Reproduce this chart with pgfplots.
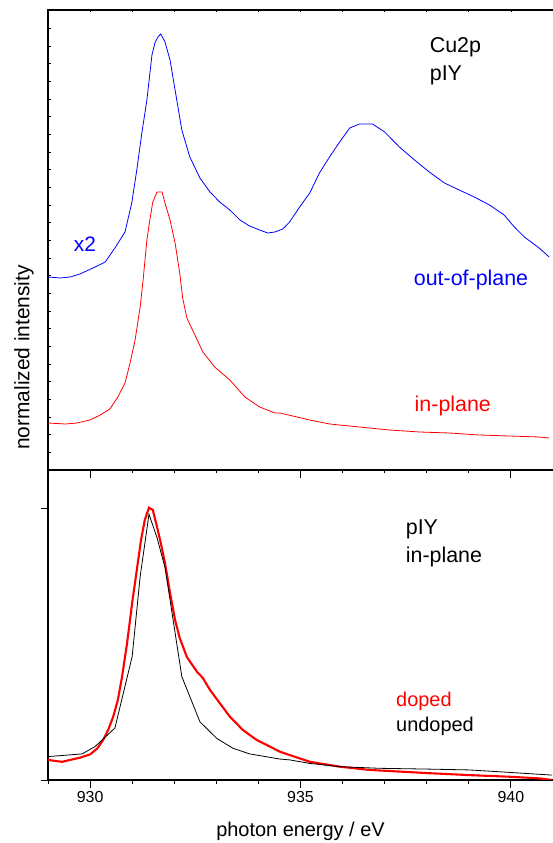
\documentclass[border=0pt]{standalone}
\usepackage{fontspec}
\setmainfont{Liberation Sans}
\usepackage{pgfplots}
\pgfplotsset{compat=1.18}
\definecolor{cblue}{RGB}{0,0,255}
\definecolor{cred}{RGB}{255,0,0}

\begin{document}
\begin{tikzpicture}
\pgfplotsset{
  panel/.style={
    scale only axis, width=505bp,
    xmin=929, xmax=941,
    axis x line*=box, axis y line*=left,
    axis line style={line width=1.1bp},
    every tick/.style={black, line width=0.9bp},
    tick align=outside,
    xtick={930,935,940}, minor xtick={929,...,941},
  },
}
% bottom panel: doped / undoped
\begin{axis}[panel, name=bot,
    at={(48bp,63bp)}, anchor=south west, height=310bp,
    ymin=0, ymax=1.1397,
    xtick pos=bottom, ytick pos=left,
    ytick={0,1}, yticklabels={},
    major tick length=7.5bp, minor tick length=4bp,
    xticklabel style={font=\fontsize{16}{18}\selectfont},
    /pgf/number format/assume math mode=true,
    xlabel={photon energy / eV},
    xlabel style={font=\fontsize{20}{24}\selectfont, at={(rel axis cs:0.5,-0.181)}, anchor=base},
]
\addplot[cred, line width=2.1bp] coordinates {
(929.00,0.074) (929.17,0.070) (929.34,0.067) (929.53,0.074) (929.76,0.082)
(930.00,0.094) (930.17,0.116) (930.31,0.147) (930.43,0.184) (930.55,0.233)
(930.66,0.294) (930.76,0.380) (930.88,0.504) (931.00,0.651) (931.11,0.772)
(931.21,0.882) (931.30,0.956) (931.40,1.001) (931.49,0.993) (931.59,0.931)
(931.68,0.871) (931.78,0.798) (931.90,0.688) (932.02,0.588) (932.13,0.522)
(932.30,0.452) (932.54,0.398) (932.68,0.375) (932.85,0.331) (933.08,0.283)
(933.32,0.233) (933.63,0.184) (933.96,0.147) (934.27,0.123) (934.51,0.104)
(934.74,0.092) (935.22,0.067) (935.93,0.049) (936.64,0.037) (937.35,0.031)
(938.06,0.025) (939.01,0.018) (939.96,0.012) (940.67,0.006) (940.98,0.000)
};
\addplot[black, line width=0.8bp] coordinates {
(929.00,0.086) (929.81,0.096) (930.12,0.123) (930.59,0.191) (931.00,0.454)
(931.19,0.748) (931.40,0.977) (931.59,0.891) (931.78,0.781) (931.90,0.662)
(932.18,0.380) (932.61,0.214) (933.01,0.153) (933.39,0.117) (933.79,0.096)
(934.51,0.077) (934.74,0.074) (935.22,0.061) (935.93,0.049) (936.88,0.043)
(938.06,0.040) (939.01,0.037) (939.96,0.028) (940.98,0.018)
};
\node[anchor=base west, font=\fontsize{21.5}{24}\selectfont] at (axis cs:937.42,0.901) {pIY};
\node[anchor=base west, font=\fontsize{21.5}{24}\selectfont] at (axis cs:937.42,0.798) {in-plane};
\node[anchor=base west, text=cred, font=\fontsize{20}{24}\selectfont] at (axis cs:937.19,0.269) {doped};
\node[anchor=base west, font=\fontsize{20}{24}\selectfont] at (axis cs:937.19,0.178) {undoped};
\end{axis}

% top panel: out-of-plane / in-plane
\begin{axis}[panel, name=top,
    at={(48bp,373bp)}, anchor=south west, height=460bp,
    ymin=0, ymax=460,
    xtick pos=bottom, ytick=\empty,
    xticklabels={},
    major tick length=8bp, minor tick length=3bp,
    ylabel={normalized intensity},
    ylabel style={font=\fontsize{21}{24}\selectfont, at={(rel axis cs:-0.0475,0.2446)}, anchor=center},
]
\addplot[cblue, line width=0.8bp] coordinates {
(929.00,193) (929.29,192) (929.53,193) (929.76,196) (930.12,203) (930.36,208)
(930.59,222) (930.83,238) (930.99,267) (931.11,300) (931.23,337) (931.35,370)
(931.47,415) (931.54,427) (931.61,433) (931.68,436) (931.78,428) (931.90,410)
(932.02,380) (932.18,340) (932.37,313) (932.61,292) (932.85,278) (933.08,268)
(933.32,260) (933.56,250) (933.79,244) (934.03,240) (934.22,237) (934.39,238)
(934.58,241) (934.74,248) (934.98,263) (935.22,277) (935.45,297) (935.69,313)
(935.93,328) (936.17,342) (936.40,346) (936.71,346) (937.00,338) (937.35,323)
(937.71,310) (938.06,298) (938.42,287) (938.77,280) (939.13,273) (939.49,265)
(939.84,255) (940.08,243) (940.32,233) (940.67,222) (940.91,213)
};
\addplot[cred, line width=0.8bp] coordinates {
(929.00,47) (929.41,46) (929.69,47) (930.00,50) (930.24,55) (930.47,61)
(930.66,73) (930.83,87) (930.95,107) (931.07,130) (931.19,163) (931.26,190)
(931.35,230) (931.42,250) (931.49,268) (931.59,278) (931.71,278) (931.78,267)
(931.90,250) (932.02,227) (932.13,197) (932.20,172) (932.30,152) (932.49,135)
(932.68,118) (932.96,103) (933.32,90) (933.68,73) (934.03,63) (934.39,57)
(934.51,57) (935.22,50) (935.69,46) (936.40,43) (937.11,40) (937.83,38)
(938.54,37) (939.25,35) (939.96,34) (940.67,33) (940.91,32)
};
\node[anchor=base west, font=\fontsize{21.5}{24}\selectfont] at (axis cs:937.99,417) {Cu2p};
\node[anchor=base west, font=\fontsize{21.5}{24}\selectfont] at (axis cs:937.99,389) {pIY};
\node[anchor=base west, text=cblue, font=\fontsize{21}{24}\selectfont] at (axis cs:929.53,218) {x2};
\node[anchor=base west, text=cblue, font=\fontsize{21.5}{24}\selectfont] at (axis cs:937.61,184) {out-of-plane};
\node[anchor=base west, text=cred, font=\fontsize{21.5}{24}\selectfont] at (axis cs:937.63,58) {in-plane};
\end{axis}

% small inward ticks on top and left of the upper panel
\begin{axis}[
    scale only axis, width=505bp, height=460bp,
    at={(48bp,373bp)}, anchor=south west,
    xmin=929, xmax=941, ymin=0, ymax=460,
    axis line style={draw=none},
    every tick/.style={black, line width=0.7bp},
    tick align=inside, major tick length=2.5bp,
    xtick pos=top, ytick pos=left,
    xtick={929,...,941}, ytick={17.6,35.27,...,441.7},
    xticklabels={}, yticklabels={},
]
\addplot[draw=none] coordinates {(930,100)};
\end{axis}

% frame line on top of the upper panel
\draw[line width=1.3bp] (47.4bp,833bp) -- (553bp,833bp);

\pgfresetboundingbox
\path[use as bounding box] (0,0) rectangle (553bp,843bp);
\end{tikzpicture}
\end{document}
